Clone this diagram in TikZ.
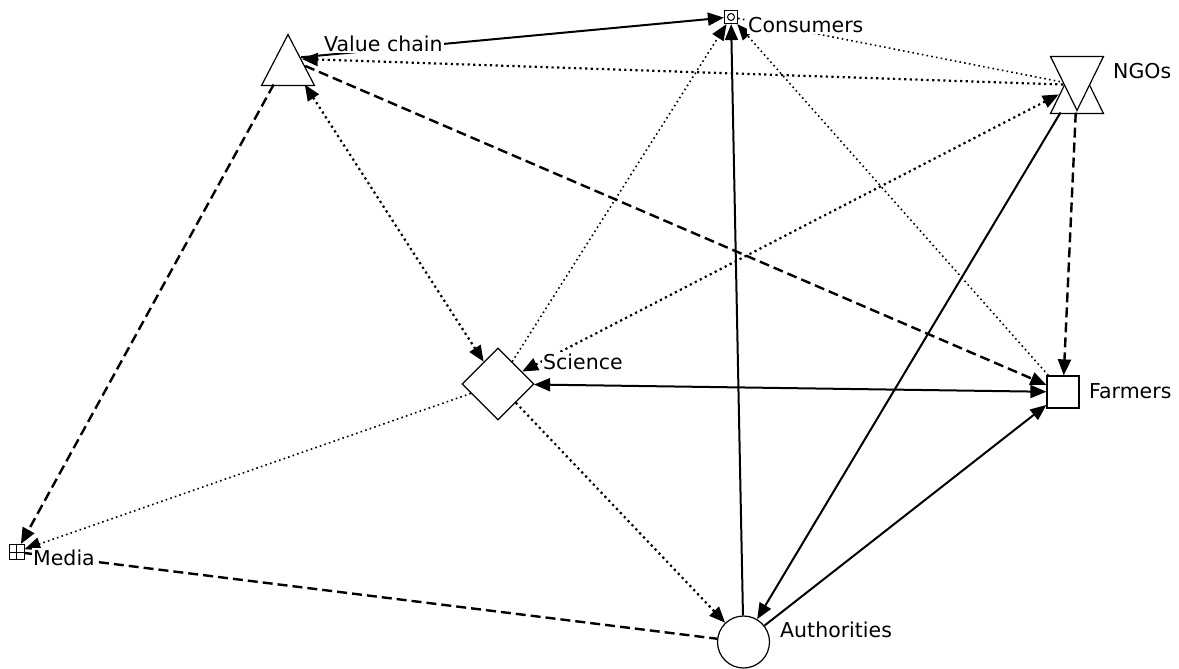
\documentclass[tikz,border=0pt]{standalone}
\usepackage{fontspec}
\setmainfont{DejaVu Sans}
\usetikzlibrary{arrows.meta,shapes.geometric}

\begin{document}
\begin{tikzpicture}[x=1pt,y=-1pt,
  actor/.style={draw=black, fill=white, line width=1.2pt, inner sep=0pt},
  triup/.style={actor, isosceles triangle, isosceles triangle stretches,
    shape border rotate=90},
  tridown/.style={actor, isosceles triangle, isosceles triangle stretches,
    shape border rotate=270},
  lbl/.style={fill=white, inner sep=1pt, anchor=base west,
    font=\fontsize{20.5}{24}\selectfont},
  solidtie/.style={line width=2pt},
  dashtie/.style={line width=2.4pt, dash pattern=on 10pt off 5pt},
  dottie/.style={line width=2.2pt, dash pattern=on 2.2pt off 3.4pt},
  thindot/.style={line width=1.6pt, dash pattern=on 1.6pt off 3.2pt},
  >={Triangle[length=16pt,width=13pt]},
]
\useasboundingbox (0,0) rectangle (1179,669);

% actors
\node[actor, rectangle, minimum size=13pt,
  path picture={\draw[line width=1pt] (path picture bounding box.center) circle (3.5pt);}]
  (cons) at (731,17) {};
\node[triup, minimum width=53pt, minimum height=51pt, anchor=apex] (vc) at (288,33) {};
\node[triup, minimum width=53pt, minimum height=54pt, anchor=apex] (ngoup) at (1077,58) {};
\node[tridown, minimum width=53pt, minimum height=54pt, anchor=apex] (ngodown) at (1077,112) {};
\node[actor, diamond, minimum width=72pt, minimum height=72pt] (sci) at (498,384) {};
\node[actor, rectangle, minimum size=32pt] (farm) at (1063,392) {};
\node[actor, circle, minimum size=52pt] (auth) at (743.5,642) {};
\node[actor, rectangle, minimum size=15pt, line width=1pt,
  path picture={\draw[line width=0.8pt]
    (path picture bounding box.north) -- (path picture bounding box.south)
    (path picture bounding box.west) -- (path picture bounding box.east);}]
  (media) at (16.5,552) {};

% middles of the two triangle symbols; ties aim here and are cut at the outline
\coordinate (vcc) at (288,58.5);
\coordinate (ngoc) at (1077,85);

% ties
\draw[solidtie,->,shorten <=13pt] (vcc) -- (cons);
\draw[solidtie,->] (auth) -- (cons);
\draw[thindot,->] (sci) -- (cons);
\draw[thindot,->] (farm) -- (cons);
\draw[thindot,shorten >=15.5pt] (cons) -- (ngoc);
\draw[dottie,->,shorten <=14pt,shorten >=13.8pt] (ngoc) -- (vcc);
\draw[dashtie,->,shorten <=18.7pt] (vcc) -- (farm);
\draw[dottie,<->,shorten <=31pt] (vcc) -- (sci);
\draw[dashtie,->,shorten <=29.7pt] (vcc) -- (media);
\draw[dottie,<->,shorten <=20.5pt] (ngoc) -- (sci);
\draw[solidtie,->,shorten <=32pt] (ngoc) -- (auth);
\draw[dashtie,->,shorten <=27.6pt] (ngoc) -- (farm);
\draw[solidtie,<->] (sci) -- (farm);
\draw[dottie,->] (sci) -- (auth);
\draw[thindot,->] (sci) -- (media);
\draw[solidtie,->] (auth) -- (farm);
\draw[dashtie] (media) -- (auth);

% labels
\node[lbl] (lcons) at (747,33) {Consumers};
\node[lbl] (lvc) at (323,52) {Value chain};
\node[lbl] (lngo) at (1112,78) {NGOs};
\node[lbl] (lsci) at (542,369) {Science};
\node[lbl] (lfarm) at (1088,398) {Farmers};
\node[lbl] (lauth) at (779,637) {Authorities};
\node[lbl] (lmedia) at (32,565) {Media};
\end{tikzpicture}
\end{document}
